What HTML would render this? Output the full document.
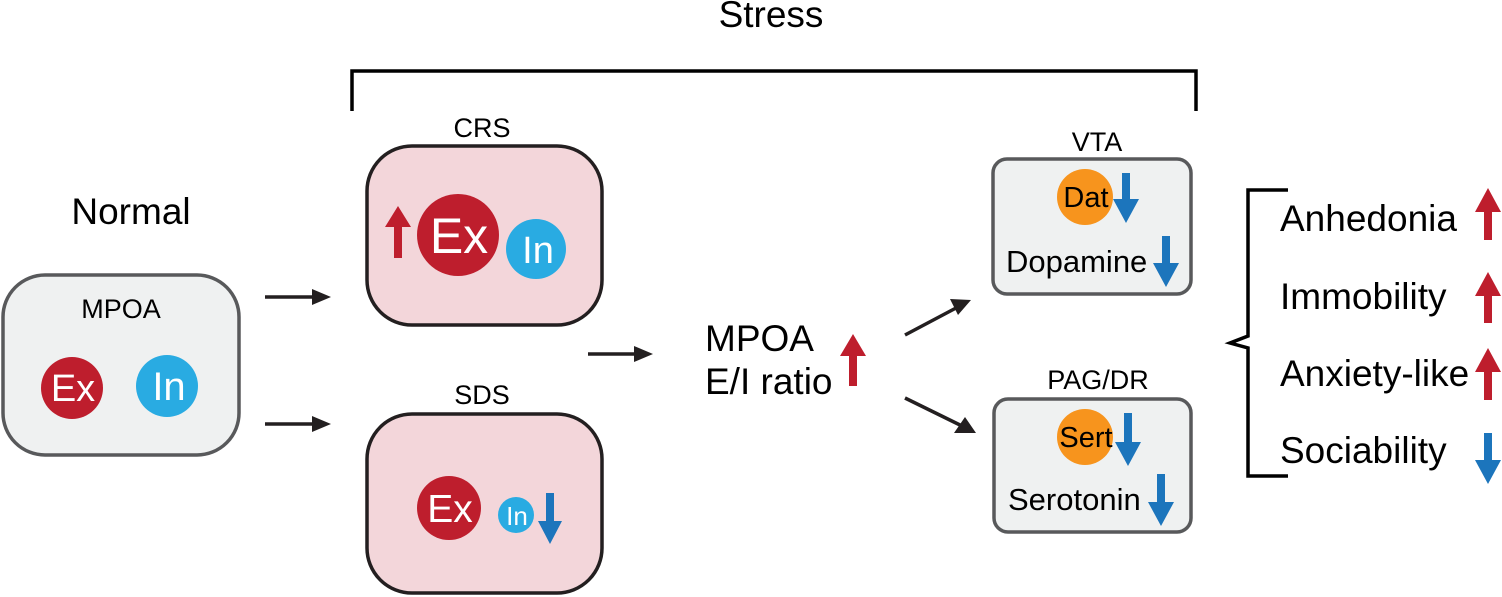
<!DOCTYPE html>
<html><head><meta charset="utf-8"><style>
html,body{margin:0;padding:0;background:#fff;}
svg{display:block;font-family:"Liberation Sans",Arial,sans-serif;}
</style></head><body>
<svg width="1502" height="597" viewBox="0 0 1502 597" xmlns="http://www.w3.org/2000/svg">
<!-- Stress -->
<text x="771" y="27" font-size="37" text-anchor="middle">Stress</text>
<path d="M352 111 V71 H1196 V111" fill="none" stroke="#000" stroke-width="3.5"/>

<!-- Normal -->
<text x="131" y="224" font-size="37" text-anchor="middle">Normal</text>
<rect x="3" y="275" width="236" height="180" rx="42" fill="#eff1f1" stroke="#58595b" stroke-width="3.5"/>
<text x="121" y="318" font-size="27" text-anchor="middle">MPOA</text>
<circle cx="72" cy="388" r="31" fill="#be1e2d"/>
<text x="73" y="401" font-size="38" fill="#fff" text-anchor="middle">Ex</text>
<circle cx="167" cy="386" r="31" fill="#29abe2"/>
<text x="169" y="400" font-size="40" fill="#fff" text-anchor="middle">In</text>

<g fill="#231f20" stroke="#231f20">
<line x1="265" y1="297" x2="314" y2="297" stroke-width="3.5"/>
<polygon points="312,289 331,297 312,305" stroke="none"/>
<line x1="265" y1="424" x2="314" y2="424" stroke-width="3.5"/>
<polygon points="312,416 331,424 312,432" stroke="none"/>
<line x1="588" y1="354" x2="636" y2="354" stroke-width="3.5"/>
<polygon points="634,346 653,354 634,362" stroke="none"/>
<line x1="905" y1="335" x2="956" y2="308" stroke-width="3.5"/>
<polygon points="950,299 971,300 958,315" stroke="none"/>
<line x1="905" y1="398" x2="960" y2="425" stroke-width="3.5"/>
<polygon points="965,417 976,433 954,433" stroke="none"/>
</g>

<!-- CRS -->
<text x="482" y="137" font-size="27" text-anchor="middle">CRS</text>
<rect x="367" y="146" width="235" height="179" rx="45" fill="#f3d6da" stroke="#231f20" stroke-width="3.5"/>
<path d="M398 206 L411 227 L402 227 L402 258 L394 258 L394 227 L385 227Z" fill="#be1e2d"/>
<circle cx="458" cy="235" r="41" fill="#be1e2d"/>
<text x="459" y="253" font-size="50" fill="#fff" text-anchor="middle">Ex</text>
<circle cx="536" cy="249" r="30" fill="#29abe2"/>
<text x="538" y="263" font-size="38" fill="#fff" text-anchor="middle">In</text>

<!-- SDS -->
<text x="482" y="404" font-size="27" text-anchor="middle">SDS</text>
<rect x="367" y="414" width="235" height="179" rx="45" fill="#f3d6da" stroke="#231f20" stroke-width="3.5"/>
<circle cx="449" cy="508" r="32" fill="#be1e2d"/>
<text x="450" y="522" font-size="39" fill="#fff" text-anchor="middle">Ex</text>
<circle cx="516" cy="515" r="18" fill="#29abe2"/>
<text x="517" y="525" font-size="26" fill="#fff" text-anchor="middle">In</text>
<path d="M550 544 L538 521 L546 521 L546 493 L554 493 L554 521 L562 521Z" fill="#1c75bc"/>

<!-- MPOA E/I -->
<text x="705" y="351" font-size="37">MPOA</text>
<text x="705" y="394" font-size="37">E/I ratio</text>
<path d="M853 334 L866 356 L857 356 L857 386 L849 386 L849 356 L840 356Z" fill="#be1e2d"/>

<!-- VTA -->
<text x="1097" y="151" font-size="27" text-anchor="middle">VTA</text>
<rect x="993" y="159" width="198" height="135" rx="14" fill="#eff1f1" stroke="#58595b" stroke-width="3.5"/>
<circle cx="1085" cy="197" r="28" fill="#f7941d"/>
<text x="1086" y="207" font-size="29" text-anchor="middle">Dat</text>
<path d="M1126 223 L1113 199 L1122 199 L1122 173 L1130 173 L1130 199 L1139 199Z" fill="#1c75bc"/>
<text x="1006" y="272" font-size="31">Dopamine</text>
<path d="M1166 287 L1153 263 L1162 263 L1162 236 L1170 236 L1170 263 L1179 263Z" fill="#1c75bc"/>

<!-- PAG/DR -->
<text x="1098" y="389" font-size="27" text-anchor="middle">PAG/DR</text>
<rect x="994" y="399" width="197" height="133" rx="14" fill="#eff1f1" stroke="#58595b" stroke-width="3.5"/>
<circle cx="1085" cy="437" r="28" fill="#f7941d"/>
<text x="1086" y="447" font-size="29" text-anchor="middle">Sert</text>
<path d="M1128 466 L1115 442 L1124 442 L1124 413 L1132 413 L1132 442 L1141 442Z" fill="#1c75bc"/>
<text x="1008" y="510" font-size="31">Serotonin</text>
<path d="M1161 526 L1148 502 L1157 502 L1157 474 L1165 474 L1165 502 L1174 502Z" fill="#1c75bc"/>

<!-- Right bracket -->
<path d="M1288 190 H1248 V336 L1230 343 L1248 348 V476 H1288" fill="none" stroke="#000" stroke-width="3.5"/>
<text x="1280" y="231" font-size="37">Anhedonia</text>
<text x="1280" y="309" font-size="37">Immobility</text>
<text x="1280" y="386" font-size="37">Anxiety-like</text>
<text x="1280" y="463" font-size="37">Sociability</text>
<path d="M1488 188 L1501 212 L1492 212 L1492 240 L1484 240 L1484 212 L1475 212Z" fill="#be1e2d"/>
<path d="M1488 272 L1501 296 L1492 296 L1492 323 L1484 323 L1484 296 L1475 296Z" fill="#be1e2d"/>
<path d="M1488 348 L1501 372 L1492 372 L1492 400 L1484 400 L1484 372 L1475 372Z" fill="#be1e2d"/>
<path d="M1488 484 L1475 460 L1484 460 L1484 433 L1492 433 L1492 460 L1501 460Z" fill="#1c75bc"/>
</svg>
</body></html>
